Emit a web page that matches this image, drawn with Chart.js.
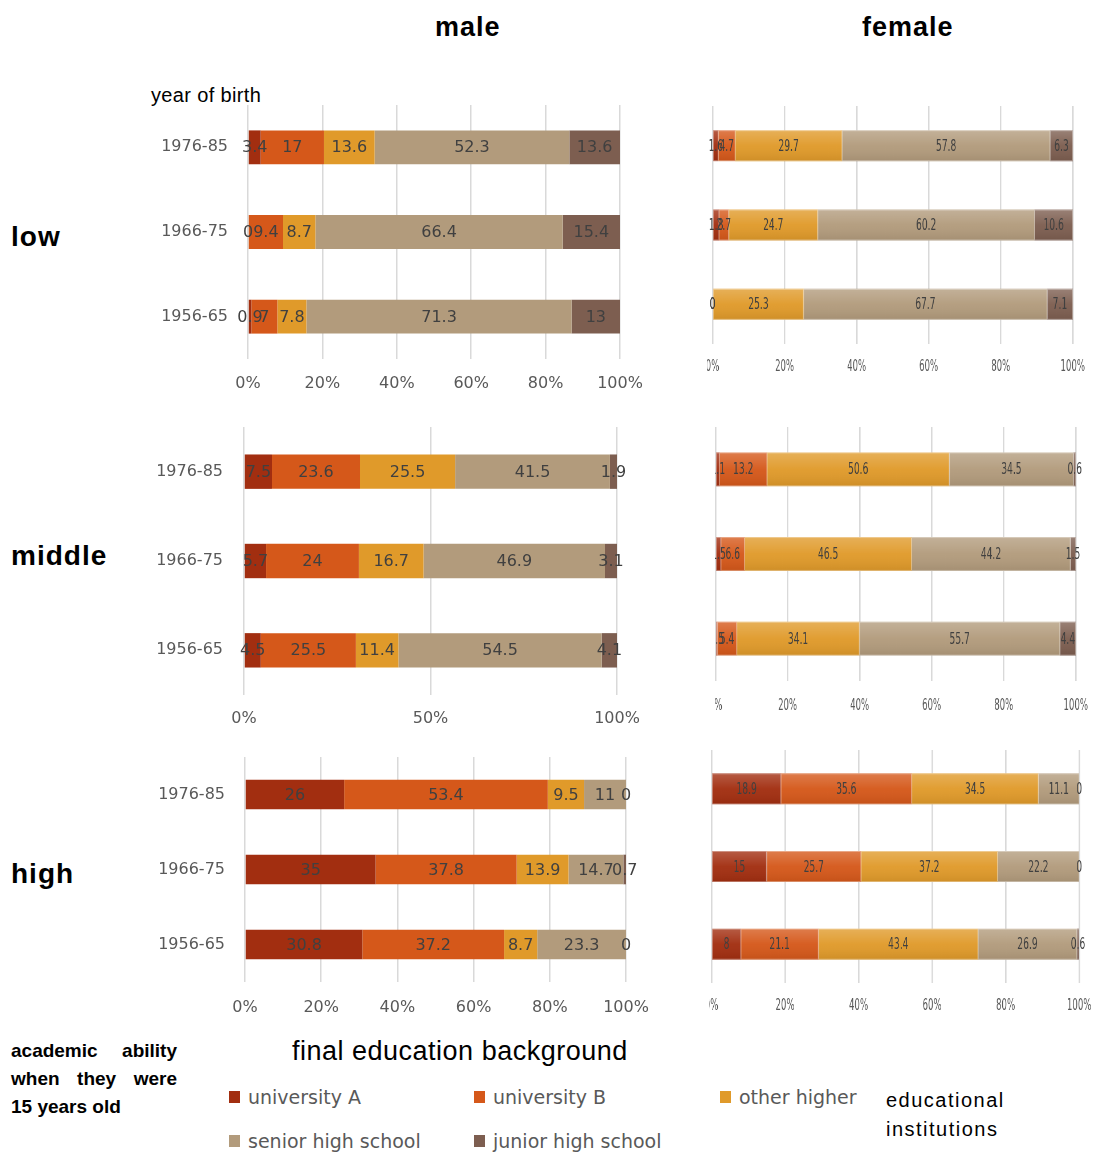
<!DOCTYPE html>
<html>
<head>
<meta charset="utf-8">
<script src="https://cdn.jsdelivr.net/npm/chart.js@4.4.1/dist/chart.umd.min.js"></script>
<style>
  html, body { margin: 0; padding: 0; background: #fff; }
  body { width: 1094px; height: 1155px; position: relative; overflow: hidden; font-family: "Liberation Sans", Arial, sans-serif; }
  .t { position: absolute; white-space: nowrap; line-height: 1; color: #000; }
  .head { font-size: 27px; font-weight: bold; letter-spacing: 1px; }
  .row { font-size: 28px; font-weight: bold; letter-spacing: 1px; }
  .note { font-size: 19px; font-weight: bold; width: 166px; text-align: justify; text-align-last: justify; }
  .panel { position: absolute; }
  .clip { position: absolute; overflow: hidden; }
  .legend-item { position: absolute; height: 24px; display: flex; align-items: center; font-family: "DejaVu Sans", sans-serif; font-size: 19px; color: #595959; white-space: nowrap; }
  .legend-item span.box { width: 11px; height: 12px; margin-right: 8px; display: inline-block; }
</style>
</head>
<body>

<div class="t head" style="left:435px; top:14px;">male</div>
<div class="t head" style="left:862px; top:14px;">female</div>

<div class="t" style="left:151px; top:85px; font-size:20px; letter-spacing:0.35px;">year of birth</div>

<div class="t row" style="left:11px; top:223px;">low</div>
<div class="t row" style="left:11px; top:542px;">middle</div>
<div class="t row" style="left:11px; top:860px;">high</div>

<div class="t note" style="left:11px; top:1041px;">academic ability</div>
<div class="t note" style="left:11px; top:1069px;">when they were</div>
<div class="t note" style="left:11px; top:1097px; width:auto; text-align:left; text-align-last:auto;">15 years old</div>

<div class="t" style="left:292px; top:1038px; font-size:27px; letter-spacing:0.5px;">final education background</div>

<div id="legend"></div>

<div class="t" style="left:886px; top:1090px; font-size:20px; letter-spacing:1.5px;">educational</div>
<div class="t" style="left:886px; top:1119px; font-size:20px; letter-spacing:1.5px;">institutions</div>

<script>
// Birth cohorts (top to bottom) and the five final-education categories
const cohorts = ['1976-85', '1966-75', '1956-65'];
const seriesNames = ['university A', 'university B', 'other higher', 'senior high school', 'junior high school'];
const seriesColors = ['#A22E10', '#D5581A', '#E09A2A', '#B29B7C', '#7D5E50'];

// Percent-axis tick labels
const ticksByTwenty = [0, 20, 40, 60, 80, 100];
const ticksByFifty = [0, 50, 100];

// Each row is one category, each column one cohort (1976-85, 1966-75, 1956-65)
const maleLowValues = [
  [3.4, 0, 0.9],
  [17, 9.4, 7],
  [13.6, 8.7, 7.8],
  [52.3, 66.4, 71.3],
  [13.6, 15.4, 13]
];
const maleMiddleValues = [
  [7.5, 5.7, 4.5],
  [23.6, 24, 25.5],
  [25.5, 16.7, 11.4],
  [41.5, 46.9, 54.5],
  [1.9, 3.1, 4.1]
];
const maleHighValues = [
  [26, 35, 30.8],
  [53.4, 37.8, 37.2],
  [9.5, 13.9, 8.7],
  [11, 14.7, 23.3],
  [0, 0.7, 0]
];
const femaleLowValues = [
  [1.6, 1.8, 0],
  [4.7, 2.7, 0],
  [29.7, 24.7, 25.3],
  [57.8, 60.2, 67.7],
  [6.3, 10.6, 7.1]
];
const femaleMiddleValues = [
  [1.1, 1.5, 0.5],
  [13.2, 6.6, 5.4],
  [50.6, 46.5, 34.1],
  [34.5, 44.2, 55.7],
  [0.6, 1.5, 4.4]
];
const femaleHighValues = [
  [18.9, 15, 8],
  [35.6, 25.7, 21.1],
  [34.5, 37.2, 43.4],
  [11.1, 22.2, 26.9],
  [0, 0, 0.6]
];

// Legend
const legendEl = document.getElementById('legend');
const legendSpots = [[229, 1085], [474, 1085], [720, 1085], [229, 1129], [474, 1129]];
seriesNames.forEach((name, i) => {
  const item = document.createElement('div');
  item.className = 'legend-item';
  item.style.left = legendSpots[i][0] + 'px';
  item.style.top = legendSpots[i][1] + 'px';
  const box = document.createElement('span');
  box.className = 'box';
  box.style.background = seriesColors[i];
  item.appendChild(box);
  item.appendChild(document.createTextNode(name));
  legendEl.appendChild(item);
});

// Writes each segment's value in the middle of the segment; optional sheen for the right-hand panels
const valueLabels = {
  id: 'valueLabels',
  afterDatasetsDraw(chart, args, opts) {
    const c = chart.ctx;
    c.save();
    if (opts.gloss) {
      chart.data.datasets.forEach((ds, i) => {
        chart.getDatasetMeta(i).data.forEach(bar => {
          const p = bar.getProps(['x', 'y', 'base', 'height'], true);
          const top = p.y - p.height / 2;
          const w = p.x - p.base;
          if (w <= 0) return;
          const g = c.createLinearGradient(0, top, 0, top + p.height);
          g.addColorStop(0, 'rgba(255,255,255,0.22)');
          g.addColorStop(0.5, 'rgba(255,255,255,0.04)');
          g.addColorStop(1, 'rgba(0,0,0,0.08)');
          c.fillStyle = g;
          c.fillRect(p.base, top, w, p.height);
          c.strokeStyle = 'rgba(255,255,255,0.35)';
          c.lineWidth = 1;
          c.strokeRect(p.base + 0.5, top + 0.5, w - 1, p.height - 1);
        });
      });
    }
    c.font = opts.font;
    c.fillStyle = opts.color;
    c.textAlign = 'center';
    c.textBaseline = 'middle';
    chart.data.datasets.forEach((ds, i) => {
      chart.getDatasetMeta(i).data.forEach((bar, j) => {
        const p = bar.getProps(['x', 'y', 'base'], true);
        c.fillText(String(ds.rawValues[j]), (p.x + p.base) / 2, p.y + 1);
      });
    });
    c.restore();
  }
};

const panels = [
  { values: maleLowValues, ticks: ticksByTwenty, plotL: 248, plotR: 620, plotT: 105, plotB: 358.5, tickY: 383, labelR: 228, barPct: 0.40 },
  { values: maleMiddleValues, ticks: ticksByFifty, plotL: 244, plotR: 617, plotT: 426.5, plotB: 694, tickY: 718, labelR: 223, barPct: 0.385 },
  { values: maleHighValues, ticks: ticksByTwenty, plotL: 245, plotR: 626, plotT: 757, plotB: 981.5, tickY: 1007, labelR: 225, barPct: 0.395 },
  { values: femaleLowValues, ticks: ticksByTwenty, plotL: 712, plotR: 1072, plotT: 106, plotB: 343.5, tickY: 367, clip: 707, barPct: 0.39 },
  { values: femaleMiddleValues, ticks: ticksByTwenty, plotL: 715, plotR: 1075, plotT: 427.3, plotB: 681.6, tickY: 706.5, clip: 715, barPct: 0.40 },
  { values: femaleHighValues, ticks: ticksByTwenty, plotL: 711.5, plotR: 1079, plotT: 750, plotB: 982.5, tickY: 1006, clip: 709, barPct: 0.40 }
];

function buildPanel(p) {
  const narrow = p.clip !== undefined;
  const s = narrow ? 0.57 : 1;
  // generous paddings so Chart.js never has to grow them for tick overflow
  const tp = 40, xh = 44;
  const tickSize = narrow ? 15 : 16;
  let canvasLeft, lp, rp, yw, cw;
  if (narrow) {
    lp = 50; rp = 50; yw = 0;
    cw = Math.round((p.plotR - p.plotL) / s + lp + rp);
    canvasLeft = p.plotL - lp * s;
  } else {
    canvasLeft = 130; lp = 0; rp = 50; yw = p.plotL - canvasLeft;
    cw = Math.round(p.plotR - p.plotL + yw + rp);
  }
  const ch = Math.round(p.plotB - p.plotT + tp + xh);
  const canvasTop = p.plotT - tp;

  const canvas = document.createElement('canvas');
  canvas.width = cw;
  canvas.height = ch;
  if (narrow) {
    const clip = document.createElement('div');
    clip.className = 'clip';
    clip.style.left = p.clip + 'px';
    clip.style.top = canvasTop + 'px';
    clip.style.width = (1094 - p.clip) + 'px';
    clip.style.height = ch + 'px';
    const wrap = document.createElement('div');
    wrap.className = 'panel';
    wrap.style.left = (canvasLeft - p.clip) + 'px';
    wrap.style.top = '0px';
    wrap.style.width = cw + 'px';
    wrap.style.height = ch + 'px';
    wrap.style.transform = 'scaleX(' + s + ')';
    wrap.style.transformOrigin = '0 0';
    wrap.appendChild(canvas);
    clip.appendChild(wrap);
    document.body.appendChild(clip);
  } else {
    const wrap = document.createElement('div');
    wrap.className = 'panel';
    wrap.style.left = canvasLeft + 'px';
    wrap.style.top = canvasTop + 'px';
    wrap.appendChild(canvas);
    document.body.appendChild(wrap);
  }

  const totals = cohorts.map((_, j) => p.values.reduce((sum, row) => sum + row[j], 0));

  new Chart(canvas, {
    type: 'bar',
    data: {
      labels: cohorts,
      datasets: p.values.map((row, i) => ({
        label: seriesNames[i],
        data: row.map((v, j) => v / totals[j] * 100),
        rawValues: row,
        backgroundColor: seriesColors[i],
        borderWidth: 0,
        barPercentage: p.barPct,
        categoryPercentage: 1
      }))
    },
    options: {
      indexAxis: 'y',
      responsive: false,
      animation: false,
      events: [],
      layout: { padding: { left: lp, right: rp, top: tp, bottom: 0 } },
      plugins: {
        legend: { display: false },
        tooltip: { enabled: false },
        valueLabels: { font: '16px "DejaVu Sans"', color: '#404040', gloss: narrow }
      },
      scales: {
        x: {
          stacked: true,
          min: 0,
          max: 100,
          afterBuildTicks: sc => { sc.ticks = p.ticks.map(v => ({ value: v })); },
          afterFit: sc => { sc.height = xh; },
          ticks: {
            callback: v => v + '%',
            color: '#595959',
            font: { family: 'DejaVu Sans', size: tickSize },
            padding: p.tickY - p.plotB - tickSize * 0.6,
            maxRotation: 0,
            autoSkip: false
          },
          grid: { color: '#d9d9d9', lineWidth: narrow ? 2.6 : 1.5, drawTicks: false },
          border: { display: false }
        },
        y: {
          stacked: true,
          display: !narrow,
          afterFit: sc => { if (!narrow) sc.width = yw; },
          ticks: {
            color: '#595959',
            font: { family: 'DejaVu Sans', size: 16 },
            padding: narrow ? 0 : p.plotL - p.labelR
          },
          grid: { display: false, drawTicks: false },
          border: { display: false }
        }
      }
    },
    plugins: [valueLabels]
  });
}

panels.forEach(buildPanel);
</script>
</body>
</html>
